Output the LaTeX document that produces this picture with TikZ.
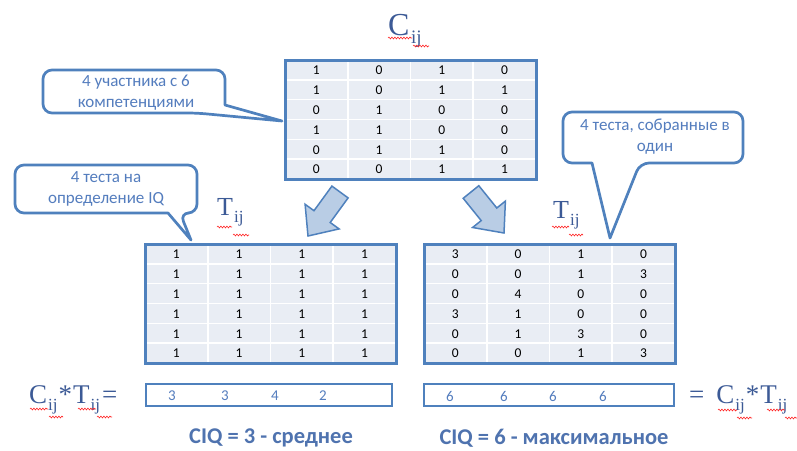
\documentclass[tikz,border=0pt]{standalone}
\usepackage{fontspec}
\setmainfont{Carlito}
\newfontfamily\serifC{Liberation Serif}
\usetikzlibrary{decorations.pathmorphing}
\definecolor{bord}{RGB}{79,129,189}
\definecolor{cellbg}{RGB}{233,237,244}
\definecolor{txtblue}{RGB}{84,125,190}
\definecolor{formblue}{RGB}{60,90,150}
\definecolor{arrfill}{RGB}{185,205,229}
\definecolor{ciq}{RGB}{79,115,175}
\tikzset{
  callout/.style={draw=bord, line width=2.7pt, fill=white, line join=round},
  calltext/.style={text=txtblue, font=\fontsize{17}{21}\selectfont, align=center, inner sep=0pt},
  cell/.style={font=\fontsize{13.5}{13.5}\selectfont, text=black, inner sep=0pt},
  mframe/.style={draw=bord, line width=3pt},
  gridline/.style={draw=white, line width=1.6pt},
  blockarrow/.style={draw=bord, line width=1.5pt, fill=arrfill, line join=miter},
  rowbox/.style={draw=bord, line width=2pt},
  rownum/.style={font=\fontsize{15}{15}\selectfont, text=txtblue, inner sep=0pt},
  ciqtext/.style={font=\bfseries\fontsize{22.5}{24}\selectfont, text=ciq, inner sep=0pt},
  formula/.style={text=formblue, inner sep=0pt, font=\serifC},
  squig/.style={draw=red!85, line width=0.6pt, decorate, decoration={snake, amplitude=0.9pt, segment length=3pt}},
}
\newcommand{\mygrid}[4]{%
  \fill[cellbg] (#2,#3) rectangle ++(251,119);
  \foreach \k in {1,2,3} \draw[gridline] ({#2+62.75*\k},#3) -- ++(0,119);
  \foreach \k in {1,...,5} \draw[gridline] (#2,{#3+19.83*\k}) -- ++(251,0);
  \foreach \row [count=\r] in {#4} {
    \foreach \v [count=\c] in \row {
      \node[cell] (#1-\r-\c) at ({#2+62.75*\c-31.4},{#3+19.83*\r-9.4}) {\v};
    }
  }
  \draw[mframe] (#2,#3) rectangle ++(251,119);
}
\begin{document}
\begin{tikzpicture}[x=1pt,y=-1pt]
\useasboundingbox[fill=white] (0,0) rectangle (797,450);

% title C_ij
\node[formula, anchor=base west] (ctitle) at (388,35) {\fontsize{32}{32}\selectfont C\raisebox{-8pt}{\fontsize{19}{19}\selectfont\kern1.5pt ij}};
\draw[squig] (388,38) -- (412,38);
\draw[squig] (413,46) -- (429,46);

% matrices
\mygrid{mc}{285}{60}{{1,0,1,0},{1,0,1,1},{0,1,0,0},{1,1,0,0},{0,1,1,0},{0,0,1,1}}
\mygrid{ml}{145}{244}{{1,1,1,1},{1,1,1,1},{1,1,1,1},{1,1,1,1},{1,1,1,1},{1,1,1,1}}
\mygrid{mr}{424}{244}{{3,0,1,0},{0,0,1,3},{0,4,0,0},{3,1,0,0},{0,1,3,0},{0,0,1,3}}

% T labels
\node[formula, anchor=base west] (tleft) at (217,215) {\fontsize{26}{26}\selectfont T\raisebox{-7pt}{\fontsize{17}{17}\selectfont\kern1pt ij}};
\draw[squig] (217,227) -- (232,227);
\draw[squig] (233,235) -- (249,235);
\node[formula, anchor=base west] (tright) at (553,218) {\fontsize{26}{26}\selectfont T\raisebox{-7pt}{\fontsize{17}{17}\selectfont\kern1pt ij}};
\draw[squig] (552,227) -- (569,227);
\draw[squig] (569,235) -- (583,235);

% callout 1
\draw[callout, rounded corners=9pt] (225,96) -- (225,70) -- (43,70) -- (43,113) -- (197,113) [sharp corners] -- (282,121) -- (225,105) -- cycle;
\node[calltext] (call1) at (136,93) {4 участника с 6\\компетенциями};

% callout 2
\draw[callout, rounded corners=9pt] (106,165) -- (197,165) -- (197,213) -- (180,213) [sharp corners] -- (191,240) -- (168,213) [rounded corners=9pt] -- (15,213) -- (15,165) -- cycle;
\node[calltext] (call2) at (106,189) {4 теста на\\определение IQ};

% callout 3
\draw[callout, rounded corners=9pt] (653,112) -- (743,112) -- (743,163) -- (640,163) [sharp corners] -- (610,238) -- (592,163) [rounded corners=9pt] -- (563,163) -- (563,112) -- cycle;
\node[calltext] (call3) at (655,137) {4 теста, собранные в\\один};

% block arrows
\draw[blockarrow] (348.1,197.9) -- (330.2,222.5) -- (339.1,228.9) -- (308,236) -- (305.1,204.3) -- (314.0,210.7) -- (331.9,186.1) -- cycle;
\draw[blockarrow] (478.8,185.7) -- (496.8,208.0) -- (505.4,201.1) -- (504,233) -- (472.6,227.5) -- (481.2,220.6) -- (463.2,198.3) -- cycle;

% bottom formulas
\node[formula, anchor=base west] (fleft) at (29,403) {\fontsize{27}{27}\selectfont C\raisebox{-7pt}{\fontsize{17}{17}\selectfont\kern1pt ij}\hspace{1pt}*\hspace{1pt}T\raisebox{-7pt}{\fontsize{17}{17}\selectfont\kern1pt ij}\hspace{2pt}=};
\draw[squig] (30,409) -- (48,409);
\draw[squig] (49,417) -- (63,417);
\draw[squig] (78,409) -- (96,409);
\draw[squig] (97,417) -- (112,417);

\node[formula, anchor=base west] (fright) at (689,403) {\fontsize{27}{27}\selectfont =\hspace{12pt}C\raisebox{-7pt}{\fontsize{17}{17}\selectfont\kern1pt ij}\hspace{1pt}*\hspace{1pt}T\raisebox{-7pt}{\fontsize{17}{17}\selectfont\kern1pt ij}};
\draw[squig] (718,410) -- (737,410);
\draw[squig] (737,418) -- (752,418);
\draw[squig] (767,410) -- (785,410);
\draw[squig] (785,418) -- (797,418);

% result boxes
\draw[rowbox] (146,384) rectangle (392,406);
\node[rownum] (rl1) at (172,396) {3};
\node[rownum] (rl2) at (225,396) {3};
\node[rownum] (rl3) at (275,396) {4};
\node[rownum] (rl4) at (323,396) {2};
\draw[rowbox] (424,384) rectangle (674,406);
\node[rownum] (rr1) at (450,396) {6};
\node[rownum] (rr2) at (504,396) {6};
\node[rownum] (rr3) at (553,396) {6};
\node[rownum] (rr4) at (603,396) {6};

% CIQ texts
\node[ciqtext] (ciq1) at (271,438) {CIQ = 3 - среднее};
\node[ciqtext] (ciq2) at (554,438) {CIQ = 6 - максимальное};
\end{tikzpicture}
\end{document}
